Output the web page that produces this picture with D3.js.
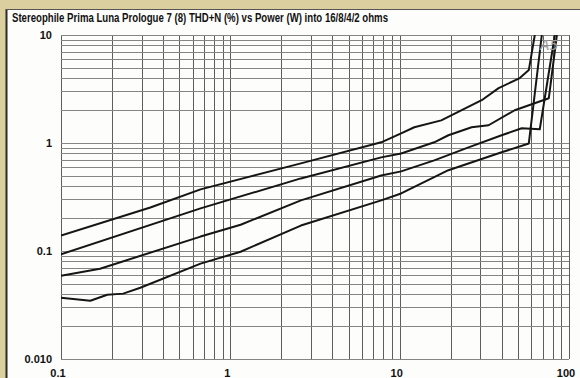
<!DOCTYPE html>
<html>
<head>
<meta charset="utf-8">
<script src="https://cdn.jsdelivr.net/npm/d3@7"></script>
<style>
  html, body { margin: 0; padding: 0; background: #ddd0a4; }
  svg { display: block; }
  text { font-family: "Liberation Sans", Arial, sans-serif; font-weight: bold; fill: #111; }
</style>
</head>
<body>
<svg id="chart" width="580" height="378"></svg>
<script>
// THD+N (%) vs power (W), one series per load
var ohm16Power = [0.1, 0.337, 0.667, 2.61, 7.78, 10.2, 12.2, 17.6, 30.5, 38.4, 51.2, 57.9, 62.8];
var ohm16Thd   = [0.139, 0.253, 0.372, 0.648, 1.015, 1.23, 1.40, 1.62, 2.49, 3.22, 3.99, 4.73, 10];

var ohm8Power = [0.1, 0.667, 2.61, 7.78, 10.2, 16.0, 19.4, 26.6, 33.5, 47.8, 76.0, 84.8];
var ohm8Thd   = [0.093, 0.248, 0.47, 0.736, 0.80, 1.015, 1.18, 1.40, 1.46, 2.01, 2.60, 10];

var ohm4Power = [0.1, 0.17, 0.667, 1.15, 2.61, 7.78, 10.2, 16.0, 25.5, 40.0, 52.6, 67.2, 82.5];
var ohm4Thd   = [0.059, 0.0685, 0.136, 0.175, 0.294, 0.50, 0.546, 0.69, 0.91, 1.18, 1.37, 1.34, 10];

var ohm2Power = [0.1, 0.149, 0.1875, 0.233, 0.294, 0.667, 1.15, 2.61, 7.78, 10.2, 19.4, 40.0, 57.9, 69.1];
var ohm2Thd   = [0.037, 0.0346, 0.0394, 0.0403, 0.0457, 0.0764, 0.0985, 0.172, 0.294, 0.341, 0.56, 0.82, 0.99, 10];

var xTicks = [0.1, 1, 10, 100];
var xTickLabels = ["0.1", "1", "10", "100"];
var yTicks = [10, 1, 0.1, 0.01];
var yTickLabels = ["10", "1", "0.1", "0.010"];

var title = "Stereophile Prima Luna Prologue 7 (8) THD+N (%) vs Power (W) into 16/8/4/2 ohms";

var svg = d3.select("#chart");
var width = 580, height = 378;
var plot = {left: 61, right: 569, top: 35, bottom: 359};

// scanned page look: tan margin, white panel with dark edge
svg.append("rect").attr("x", 0).attr("y", 0).attr("width", width).attr("height", height).attr("fill", "#dccf9f");
svg.append("rect").attr("x", 7).attr("y", 9).attr("width", width - 7).attr("height", height - 9).attr("fill", "#fdfdfb");
svg.append("line").attr("x1", 6.5).attr("x2", 6.5).attr("y1", 9).attr("y2", height)
  .attr("stroke", "#2a2a2a").attr("stroke-width", 2);
svg.append("line").attr("x1", 6).attr("x2", width).attr("y1", 9.5).attr("y2", 9.5)
  .attr("stroke", "#555").attr("stroke-width", 1);

var x = d3.scaleLog().domain([0.1, 100]).range([plot.left, plot.right]);
var y = d3.scaleLog().domain([0.01, 10]).range([plot.bottom, plot.top]);

// log grid: 1..9 in every decade
function gridValues(lo, hi) {
  var out = [];
  for (var dec = lo; dec < hi; dec *= 10) {
    for (var k = 1; k <= 9; k++) out.push(dec * k);
  }
  out.push(hi);
  return out;
}

var grid = svg.append("g").attr("class", "grid");
grid.selectAll("line.v")
  .data(gridValues(0.1, 100))
  .enter().append("line")
  .attr("class", "v")
  .attr("x1", function(d) { return Math.round(x(d)) + 0.5; })
  .attr("x2", function(d) { return Math.round(x(d)) + 0.5; })
  .attr("y1", plot.top)
  .attr("y2", plot.bottom)
  .attr("stroke", "#5e5e5e")
  .attr("stroke-width", 1);

grid.selectAll("line.h")
  .data(gridValues(0.01, 10))
  .enter().append("line")
  .attr("class", "h")
  .attr("x1", plot.left)
  .attr("x2", plot.right)
  .attr("y1", function(d) { return Math.round(y(d)) + 0.5; })
  .attr("y2", function(d) { return Math.round(y(d)) + 0.5; })
  .attr("stroke", "#858585")
  .attr("stroke-width", 1);

svg.append("clipPath").attr("id", "plotclip")
  .append("rect")
  .attr("x", plot.left).attr("y", plot.top)
  .attr("width", plot.right - plot.left).attr("height", plot.bottom - plot.top);

var series = [
  {power: ohm16Power, thd: ohm16Thd},
  {power: ohm8Power, thd: ohm8Thd},
  {power: ohm4Power, thd: ohm4Thd},
  {power: ohm2Power, thd: ohm2Thd}
];

var line = d3.line()
  .x(function(d) { return x(d[0]); })
  .y(function(d) { return y(d[1]); });

svg.append("g")
  .attr("clip-path", "url(#plotclip)")
  .selectAll("path")
  .data(series)
  .enter().append("path")
  .attr("d", function(s) { return line(d3.zip(s.power, s.thd)); })
  .attr("fill", "none")
  .attr("stroke", "#151515")
  .attr("stroke-width", 2)
  .attr("stroke-linejoin", "round");

// handwritten mark on the scan
svg.append("text")
  .attr("x", 540).attr("y", 50)
  .style("font-family", "'DejaVu Sans', sans-serif")
  .style("font-weight", "normal")
  .style("font-style", "italic")
  .style("font-size", "14px")
  .style("fill", "#9a9a9a")
  .text("A5");

// axis labels
svg.selectAll("text.ylab")
  .data(yTicks)
  .enter().append("text")
  .attr("class", "ylab")
  .attr("x", 52)
  .attr("y", function(d) { return y(d) + 4; })
  .attr("text-anchor", "end")
  .style("font-size", "11px")
  .text(function(d, i) { return yTickLabels[i]; });

svg.selectAll("text.xlab")
  .data(xTicks)
  .enter().append("text")
  .attr("class", "xlab")
  .attr("x", function(d) { return x(d) - 3; })
  .attr("y", 377)
  .attr("text-anchor", "middle")
  .style("font-size", "11px")
  .text(function(d, i) { return xTickLabels[i]; });

svg.append("text")
  .attr("x", 12)
  .attr("y", 22)
  .attr("textLength", 376)
  .attr("lengthAdjust", "spacingAndGlyphs")
  .style("font-size", "12px")
  .text(title);
</script>
</body>
</html>
